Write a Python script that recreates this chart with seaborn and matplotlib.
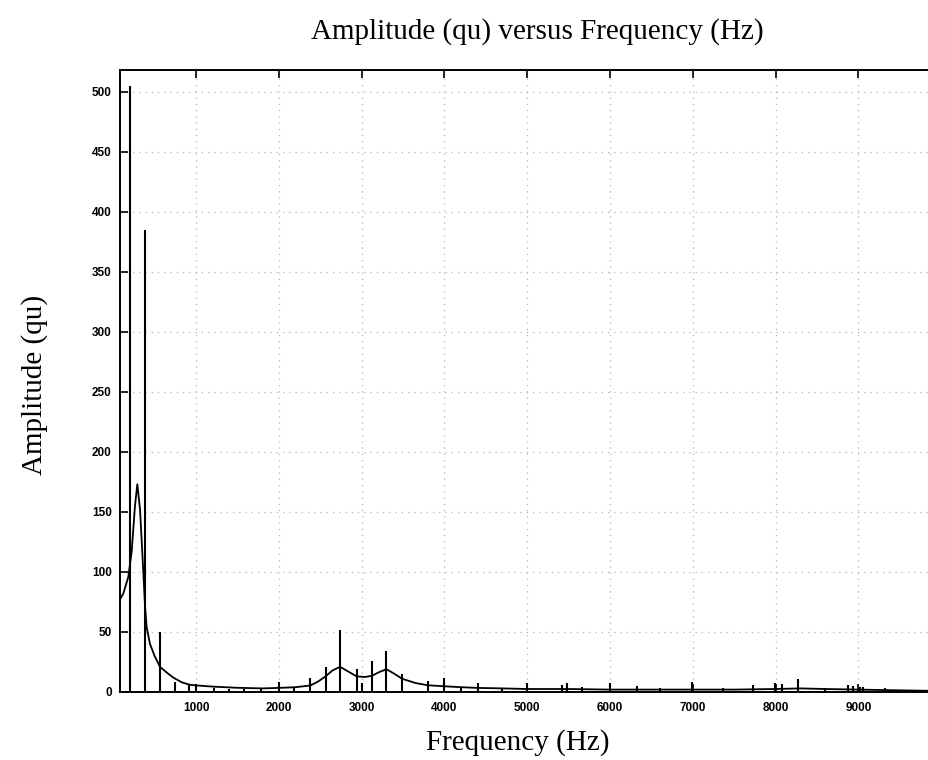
import numpy as np
import pandas as pd
import matplotlib
matplotlib.use("Agg")
import matplotlib.pyplot as plt
import seaborn as sns

# ---- data ----
env_freq = [82, 122, 183, 223, 263, 291, 324, 356, 384, 404, 444, 500, 565, 650, 726,
            830, 927, 1000, 1200, 1500, 1800, 2000, 2200, 2380, 2470, 2565, 2650, 2740,
            2840, 2940, 3040, 3125, 3210, 3300, 3400, 3490, 3650, 3800, 3990, 4200, 4400,
            4700, 5000, 5500, 6000, 6500, 7000, 7500, 8000, 8300, 8600, 9000, 9400, 9853]
env_amp = [77, 82, 96, 117, 155, 173, 152, 110, 72, 54, 40, 30, 21, 16, 12,
           8, 6, 5.5, 4.5, 3.5, 3, 3.4, 4, 5.4, 8.5, 13, 18, 21,
           17, 13, 12.5, 13.5, 16.5, 19, 15, 11, 7.5, 5.6, 4.8, 4, 3.4,
           3, 2.5, 2.5, 2, 2, 2, 2, 2.5, 3, 2.5, 2, 1.5, 1]

stem_freq = [203, 388, 565, 746, 919, 1000, 1220, 1400, 1580, 1790, 2000, 2185, 2380,
             2565, 2740, 2940, 3000, 3125, 3300, 3490, 3806, 3990, 4200, 4400, 4700,
             5000, 5416, 5477, 5662, 6000, 6322, 6600, 6986, 7366, 7731, 7993, 8073,
             8274, 8600, 8878, 8939, 9019, 9058, 9320, 9600]
stem_amp = [505, 385, 50, 8, 6, 6.5, 3, 2.5, 2.5, 2.5, 8, 4, 12,
            21, 52, 19, 7.5, 26, 34, 15, 9.5, 12, 3, 7.5, 3,
            7.5, 6, 7.5, 4.5, 7.5, 4.7, 3, 8, 3, 5.5, 7.5, 7,
            11, 3, 5.5, 5, 4, 4.5, 3, 2]

x_ticks = [1000, 2000, 3000, 4000, 5000, 6000, 7000, 8000, 9000]
y_ticks = [0, 50, 100, 150, 200, 250, 300, 350, 400, 450, 500]

title = "Amplitude (qu) versus Frequency (Hz)"
xlabel = "Frequency (Hz)"
ylabel = "Amplitude (qu)"

# ---- plotting ----
sns.set_style("white")
plt.rcParams['font.family'] = ['Liberation Sans', 'DejaVu Sans']
plt.rcParams['text.color'] = 'black'
plt.rcParams['xtick.color'] = 'black'
plt.rcParams['ytick.color'] = 'black'

fig = plt.figure(figsize=(9.29, 7.6), dpi=100)
ax = fig.add_axes([120/929, 1-692/760, 1-120/929, (692-70)/760])

env = pd.DataFrame({"freq": env_freq, "amp": env_amp})
sns.lineplot(data=env, x="freq", y="amp", ax=ax, color="black", linewidth=1.3,
             estimator=None, sort=False)
ax.vlines(stem_freq, 0, stem_amp, color="black", linewidth=1.5)

ax.set_xlim(82, 9853)
ax.set_ylim(0, 518)
ax.set_xticks(x_ticks)
ax.set_yticks(y_ticks)
ax.set_xticklabels([str(t) for t in x_ticks], fontsize=8.5, fontweight="bold")
ax.set_yticklabels([str(t) for t in y_ticks], fontsize=8.5, fontweight="bold")
ax.tick_params(axis="both", direction="in", length=6, width=1.2, color="black",
               labelcolor="black", top=True, bottom=True, left=True, right=False)
ax.tick_params(axis="x", pad=7)
ax.tick_params(axis="y", pad=6)
ax.set_xlabel("")
ax.set_ylabel("")

ax.grid(True, linestyle=(0, (1, 4)), color="#b5b5b5", linewidth=0.9)
for s in ["left", "bottom", "top"]:
    ax.spines[s].set_color("black")
    ax.spines[s].set_linewidth(1.4)
ax.spines["right"].set_visible(False)

fig.text(537/929, 1-32/760, title, ha="center", va="center", color="black",
         family="Liberation Serif", fontsize=21)
fig.text(518/929, 1-743/760, xlabel, ha="center", va="center", color="black",
         family="Liberation Serif", fontsize=21)
fig.text(35/929, 1-385/760, ylabel, ha="center", va="center", rotation=90,
         color="black", family="Liberation Serif", fontsize=21)

fig.savefig("out.png", dpi=100)
